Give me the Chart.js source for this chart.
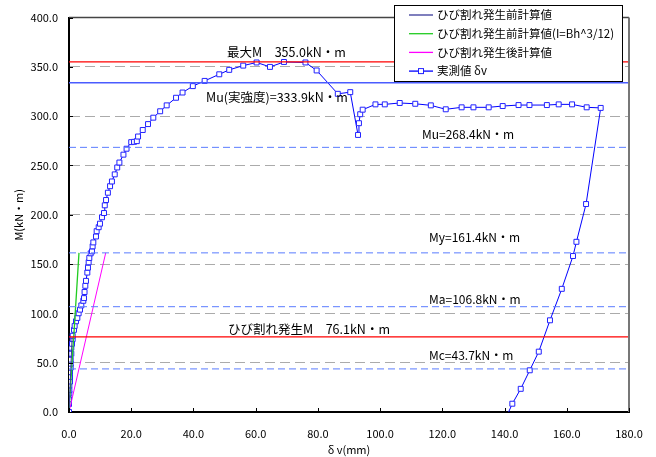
<!DOCTYPE html>
<html>
<head>
<meta charset="utf-8">
<script src="https://cdn.jsdelivr.net/npm/chart.js@4.4.0/dist/chart.umd.min.js"></script>
<style>
  body { margin: 0; background: #fff; }
  canvas { display: block; }
</style>
</head>
<body>
<canvas id="grafico" width="656" height="457"></canvas>
<script>
// 実測値 δv(mm) / M(kN・m)
var medidoX = [0, 0, 0, 0.11, 0.11, 0.11, 0.32, 0.32, 0.32, 0.54, 0.54, 0.54, 0.75, 0.75, 0.96, 1.18, 1.18, 1.61, 1.82, 2.25,
  2.68, 3.1, 3.54, 3.96, 4.6, 4.82, 5.0, 5.25, 5.46, 5.89, 6.1, 6.32, 6.53, 6.96, 7.39, 7.6, 7.82, 8.68, 8.89, 9.54,
  9.96, 10.6, 11.25, 11.5, 11.9, 12.5, 13.2, 13.8, 14.7, 15.5, 16.2, 17.5, 18.5, 20.0, 20.9, 21.8, 22.2, 23.7, 25.4, 27.1,
  29.3, 31.4, 34.4, 36.5, 39.8, 43.6, 48.3, 51.5, 56.0, 60.3, 64.6, 69.1, 76.0, 79.6, 86.4, 90.4, 92.9, 93.2, 93.6, 94.4,
  98.5, 101.5, 106.3, 111.3, 116.3, 121.1, 126.2, 130.0, 134.9, 139.4, 144.5, 148.0, 153.6, 157.4, 161.7, 166.4, 170.9,
  166.2, 163.1, 162.0, 158.4, 154.6, 151.0, 148.1, 145.2, 142.5, 141.3];
var medidoM = [0, 8.1, 12.8, 18.8, 22.2, 26.9, 30.9, 35.6, 40.3, 45.0, 49.0, 53.1, 59.1, 65.2, 69.2, 73.9, 77.3, 83.3, 87.3, 92.0,
  95.4, 100.1, 103.8, 108.1, 112.8, 115.5, 121.7, 128.0, 133.0, 141.4, 146.4, 151.8, 156.2, 160.9, 162.9, 168.0, 172.0, 178.0, 183.4, 187.4,
  191.0, 197.5, 201.8, 209.6, 215.0, 222.4, 229.0, 233.8, 241.0, 248.0, 253.0, 261.0, 267.0, 273.7, 274.0, 274.7, 279.4, 286.0, 292.0, 298.5,
  305.0, 311.0, 318.7, 324.0, 330.5, 335.8, 342.5, 347.0, 351.3, 354.5, 350.0, 355.0, 354.5, 346.4, 322.7, 324.4, 281.0, 292.9, 302.0, 306.6,
  312.0, 312.0, 313.4, 312.6, 311.0, 307.0, 309.0, 309.0, 309.0, 310.3, 311.3, 311.3, 311.3, 312.0, 312.0, 309.0, 308.4,
  210.9, 172.6, 158.2, 124.9, 93.0, 61.2, 42.3, 23.5, 8.4, 0];

// 計算値
var antesX = [0, 1.0];
var antesM = [0, 76.1];
var antesIX = [0, 3.2];
var antesIM = [0, 161.4];
var despuesX = [0, 11.8];
var despuesM = [0, 161.4];

// 基準値
var maxM = 355.0, muReal = 333.9, mu = 268.4, my = 161.4, ma = 106.8, mCrack = 76.1, mc = 43.7;

var etiquetas = ['ひび割れ発生前計算値', 'ひび割れ発生前計算値(I=Bh^3/12)', 'ひび割れ発生後計算値', '実測値 δv'];

Chart.defaults.font.family = "'Noto Sans CJK JP', 'Noto Sans', sans-serif";
Chart.defaults.color = '#000';

function puntos(xs, ys) {
  return xs.map(function (x, i) { return { x: x, y: ys[i] }; });
}

function linea(valor, color, dash, ancho) {
  return {
    label: '',
    data: [{ x: 0, y: valor }, { x: 180, y: valor }],
    borderColor: color, borderDash: dash, borderWidth: ancho,
    pointRadius: 0, showLine: true, fill: false
  };
}

var azulDash = '#5a7cff';
var lineas = [
  linea(maxM, '#ff0000', [], 1.3),
  linea(muReal, '#4a5cff', [], 1.3),
  linea(mu, azulDash, [7, 4], 1),
  linea(my, azulDash, [7, 4], 1),
  linea(ma, azulDash, [7, 4], 1),
  linea(mc, azulDash, [7, 4], 1),
  linea(mCrack, '#ff0000', [], 1.3)
];

var series = [
  { label: etiquetas[0], data: puntos(antesX, antesM), borderColor: '#3a3a9a', borderWidth: 1, pointRadius: 0, showLine: true },
  { label: etiquetas[1], data: puntos(antesIX, antesIM), borderColor: '#22cc22', borderWidth: 1.3, pointRadius: 0, showLine: true },
  { label: etiquetas[2], data: puntos(despuesX, despuesM), borderColor: '#ff00ff', borderWidth: 1, pointRadius: 0, showLine: true },
  { label: etiquetas[3], data: puntos(medidoX, medidoM), borderColor: '#0000ff', borderWidth: 1,
    pointStyle: 'rect', pointRadius: medidoX.map(function (x, i) { return i === medidoX.length - 1 ? 0 : 3.5; }),
    pointBorderColor: '#2222ff', pointBackgroundColor: '#ffffff', pointBorderWidth: 1, showLine: true, tension: 0 }
];

var textos = [
  { t: '最大M　355.0kN・m', v: maxM, dx: 158, dy: -10, size: 12.5 },
  { t: 'Mu(実強度)=333.9kN・m', v: muReal, dx: 137, dy: 14, size: 12.5 },
  { t: 'Mu=268.4kN・m', v: mu, dx: 353, dy: -13, size: 12 },
  { t: 'My=161.4kN・m', v: my, dx: 360, dy: -15, size: 12 },
  { t: 'Ma=106.8kN・m', v: ma, dx: 360, dy: -7, size: 12 },
  { t: 'ひび割れ発生M　76.1kN・m', v: mCrack, dx: 159, dy: -8, size: 12.5 },
  { t: 'Mc=43.7kN・m', v: mc, dx: 360, dy: -13, size: 12 }
];

var extras = {
  id: 'extras',
  afterDatasetsDraw: function (chart) {
    var ctx = chart.ctx, a = chart.chartArea, sx = chart.scales.x, sy = chart.scales.y;
    ctx.save();
    // 枠
    ctx.strokeStyle = '#444';
    ctx.lineWidth = 1.5;
    ctx.beginPath();
    ctx.moveTo(a.left, a.top);
    ctx.lineTo(a.right, a.top);
    ctx.stroke();
    ctx.strokeStyle = '#777';
    ctx.lineWidth = 2;
    ctx.beginPath();
    ctx.moveTo(a.right, a.top);
    ctx.lineTo(a.right, a.bottom);
    ctx.stroke();
    // 目盛り(内側)
    ctx.strokeStyle = '#000';
    ctx.lineWidth = 1;
    sx.ticks.forEach(function (t) {
      var px = Math.round(sx.getPixelForValue(t.value)) + 0.5;
      ctx.beginPath(); ctx.moveTo(px, a.bottom); ctx.lineTo(px, a.bottom - 4); ctx.stroke();
    });
    sy.ticks.forEach(function (t) {
      var py = Math.round(sy.getPixelForValue(t.value)) + 0.5;
      ctx.beginPath(); ctx.moveTo(a.left, py); ctx.lineTo(a.left + 4, py); ctx.stroke();
    });
    // 注記
    ctx.fillStyle = '#000';
    ctx.textBaseline = 'middle';
    ctx.textAlign = 'left';
    textos.forEach(function (o) {
      ctx.font = o.size + "px 'Noto Sans CJK JP', sans-serif";
      ctx.fillText(o.t, a.left + o.dx, sy.getPixelForValue(o.v) + o.dy);
    });
    // 凡例
    var bx = 394.5, by = 5.5, bw = 228, bh = 76;
    ctx.fillStyle = '#fff';
    ctx.fillRect(bx, by, bw, bh);
    ctx.strokeStyle = '#000';
    ctx.lineWidth = 1;
    ctx.strokeRect(bx, by, bw, bh);
    ctx.font = "11.5px 'Noto Sans CJK JP', sans-serif";
    series.forEach(function (s, i) {
      var y = 15 + i * 18.7;
      ctx.strokeStyle = s.borderColor;
      ctx.lineWidth = 1.3;
      ctx.beginPath(); ctx.moveTo(409, y); ctx.lineTo(433, y); ctx.stroke();
      if (s.pointStyle === 'rect') {
        ctx.fillStyle = '#fff';
        ctx.fillRect(418.5, y - 2.5, 5, 5);
        ctx.strokeStyle = s.pointBorderColor;
        ctx.lineWidth = 1;
        ctx.strokeRect(418.5, y - 2.5, 5, 5);
      }
      ctx.fillStyle = '#000';
      ctx.fillText(s.label, 437, y);
    });
    ctx.restore();
  }
};

new Chart(document.getElementById('grafico'), {
  type: 'scatter',
  data: { datasets: lineas.concat(series) },
  options: {
    responsive: false,
    animation: false,
    devicePixelRatio: 1,
    layout: { padding: { top: 15, right: 27, left: 0, bottom: 0 } },
    plugins: { legend: { display: false }, tooltip: { enabled: false } },
    scales: {
      x: {
        type: 'linear', min: 0, max: 180,
        ticks: { stepSize: 20, padding: 7, maxRotation: 0, font: { size: 11 },
          callback: function (v) { return v.toFixed(1); } },
        grid: { display: false },
        border: { color: '#000', width: 2 },
        title: { display: true, text: 'δ v(mm)', font: { size: 11 }, padding: { top: 0, bottom: 1 } },
        afterFit: function (s) { s.height = 45; }
      },
      y: {
        type: 'linear', min: 0, max: 400,
        ticks: { stepSize: 50, padding: 11, font: { size: 11 },
          callback: function (v) { return v.toFixed(1); } },
        grid: { drawTicks: false, lineWidth: 1,
          color: function (c) { return (c.tick && (c.tick.value === 0 || c.tick.value === 400)) ? 'rgba(0,0,0,0)' : '#ababab'; } },
        border: { color: '#000', width: 2, dash: [10, 5] },
        title: { display: true, text: 'M(kN・m)', font: { size: 11 }, padding: { top: 12, bottom: 0 } },
        afterFit: function (s) { s.width = 69; }
      }
    }
  },
  plugins: [extras]
});
</script>
</body>
</html>
